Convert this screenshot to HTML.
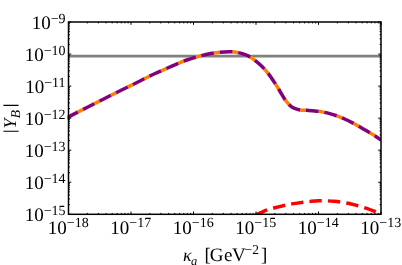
<!DOCTYPE html>
<html><head><meta charset="utf-8"><style>
html,body{margin:0;padding:0;background:#fff;}
svg{display:block;font-family:"Liberation Serif",serif;text-rendering:geometricPrecision;}
svg{will-change:transform}
</style></head><body>
<svg width="402" height="265" viewBox="0 0 402 265">
<rect width="402" height="265" fill="#fff"/>
<defs><clipPath id="c"><rect x="67.5" y="22.0" width="313.5" height="192.3"/></clipPath></defs>
<g clip-path="url(#c)">
<path d="M68.5 56.09H381.0" stroke="#808080" stroke-width="2.6" fill="none"/>
<path d="M66.00 118.20 C66.50 117.93 67.99 117.11 69.00 116.60 C72.57 114.78 81.27 110.41 87.40 107.30 C94.23 103.83 102.44 99.58 110.00 95.80 C118.77 91.42 133.33 84.32 140.00 81.00 C143.35 79.33 146.67 77.50 150.00 75.90 C153.30 74.32 156.66 72.89 160.00 71.40 C164.15 69.55 170.40 66.70 174.90 64.80 C178.90 63.11 182.90 61.43 187.00 60.00 C191.15 58.55 195.63 57.22 199.80 56.10 C203.83 55.02 207.89 54.00 212.00 53.30 C216.13 52.60 221.60 52.17 224.60 51.90 C226.39 51.74 228.20 51.65 230.00 51.70 C231.90 51.75 234.02 51.88 236.00 52.20 C238.07 52.53 240.32 53.02 242.40 53.70 C244.65 54.43 247.42 55.48 249.50 56.60 C251.44 57.64 253.17 59.04 254.90 60.40 C256.82 61.90 259.07 63.75 261.00 65.60 C263.07 67.58 265.37 69.92 267.30 72.30 C269.38 74.87 271.52 78.04 273.50 81.00 C275.58 84.12 277.90 87.92 279.80 91.00 C281.53 93.81 283.25 97.13 284.90 99.50 C286.32 101.54 288.18 103.75 289.70 105.20 C290.96 106.41 292.41 107.47 294.00 108.20 C295.70 108.98 297.88 109.57 299.90 109.90 C302.07 110.25 304.63 110.14 307.00 110.30 C309.48 110.47 312.30 110.63 314.80 110.90 C317.21 111.16 319.62 111.47 322.00 111.90 C324.48 112.35 327.20 112.93 329.70 113.60 C332.17 114.26 334.60 115.03 337.00 115.90 C339.48 116.80 342.10 117.88 344.60 119.00 C347.10 120.12 349.56 121.35 352.00 122.60 C354.50 123.88 357.10 125.30 359.60 126.70 C362.09 128.09 364.55 129.54 367.00 131.00 C369.48 132.48 372.17 134.12 374.50 135.60 C376.69 136.99 379.92 139.18 381.00 139.90" stroke="#ff8000" stroke-width="3.5" fill="none" stroke-dasharray="6.5 12.110000000000001" stroke-dashoffset="-12.94"/>
<path d="M66.00 118.20 C66.50 117.93 67.99 117.11 69.00 116.60 C72.57 114.78 81.27 110.41 87.40 107.30 C94.23 103.83 102.44 99.58 110.00 95.80 C118.77 91.42 133.33 84.32 140.00 81.00 C143.35 79.33 146.67 77.50 150.00 75.90 C153.30 74.32 156.66 72.89 160.00 71.40 C164.15 69.55 170.40 66.70 174.90 64.80 C178.90 63.11 182.90 61.43 187.00 60.00 C191.15 58.55 195.63 57.22 199.80 56.10 C203.83 55.02 207.89 54.00 212.00 53.30 C216.13 52.60 221.60 52.17 224.60 51.90 C226.39 51.74 228.20 51.65 230.00 51.70 C231.90 51.75 234.02 51.88 236.00 52.20 C238.07 52.53 240.32 53.02 242.40 53.70 C244.65 54.43 247.42 55.48 249.50 56.60 C251.44 57.64 253.17 59.04 254.90 60.40 C256.82 61.90 259.07 63.75 261.00 65.60 C263.07 67.58 265.37 69.92 267.30 72.30 C269.38 74.87 271.52 78.04 273.50 81.00 C275.58 84.12 277.90 87.92 279.80 91.00 C281.53 93.81 283.25 97.13 284.90 99.50 C286.32 101.54 288.18 103.75 289.70 105.20 C290.96 106.41 292.41 107.47 294.00 108.20 C295.70 108.98 297.88 109.57 299.90 109.90 C302.07 110.25 304.63 110.14 307.00 110.30 C309.48 110.47 312.30 110.63 314.80 110.90 C317.21 111.16 319.62 111.47 322.00 111.90 C324.48 112.35 327.20 112.93 329.70 113.60 C332.17 114.26 334.60 115.03 337.00 115.90 C339.48 116.80 342.10 117.88 344.60 119.00 C347.10 120.12 349.56 121.35 352.00 122.60 C354.50 123.88 357.10 125.30 359.60 126.70 C362.09 128.09 364.55 129.54 367.00 131.00 C369.48 132.48 372.17 134.12 374.50 135.60 C376.69 136.99 379.92 139.18 381.00 139.90" stroke="#800080" stroke-width="3.5" fill="none" stroke-dasharray="12.71 5.9" stroke-dashoffset="-0.53"/>
<path d="M252.00 217.70 C252.82 217.17 255.23 215.43 256.90 214.50 C258.54 213.58 260.28 212.85 262.00 212.10 C263.83 211.30 265.92 210.38 267.90 209.70 C269.87 209.02 271.89 208.52 273.90 208.00 C276.88 207.23 282.82 205.78 285.80 205.10 C287.79 204.64 289.79 204.24 291.80 203.90 C294.78 203.40 300.62 202.52 303.70 202.10 C305.89 201.80 308.10 201.60 310.30 201.40 C312.68 201.18 315.43 200.90 318.00 200.80 C320.62 200.70 323.33 200.72 326.00 200.80 C328.67 200.88 331.34 201.05 334.00 201.30 C336.67 201.55 339.34 201.90 342.00 202.30 C344.67 202.70 347.35 203.14 350.00 203.70 C352.67 204.27 355.35 204.96 358.00 205.70 C360.67 206.45 363.36 207.29 366.00 208.20 C368.67 209.12 371.50 210.20 374.00 211.20 C376.36 212.14 379.17 213.40 381.00 214.20 C382.34 214.78 384.33 215.70 385.00 216.00" stroke="#ff0000" stroke-width="3.5" fill="none" stroke-dasharray="12.3 6.2" stroke-dashoffset="-4.8"/>
</g>
<path d="M68.50 214.30v-2.80M68.50 22.00v2.80M87.31 214.30v-1.40M87.31 22.00v1.40M98.32 214.30v-1.40M98.32 22.00v1.40M106.13 214.30v-1.40M106.13 22.00v1.40M112.19 214.30v-1.40M112.19 22.00v1.40M117.13 214.30v-1.40M117.13 22.00v1.40M121.32 214.30v-1.40M121.32 22.00v1.40M124.94 214.30v-1.40M124.94 22.00v1.40M128.14 214.30v-1.40M128.14 22.00v1.40M131.00 214.30v-2.80M131.00 22.00v2.80M149.81 214.30v-1.40M149.81 22.00v1.40M160.82 214.30v-1.40M160.82 22.00v1.40M168.63 214.30v-1.40M168.63 22.00v1.40M174.69 214.30v-1.40M174.69 22.00v1.40M179.63 214.30v-1.40M179.63 22.00v1.40M183.82 214.30v-1.40M183.82 22.00v1.40M187.44 214.30v-1.40M187.44 22.00v1.40M190.64 214.30v-1.40M190.64 22.00v1.40M193.50 214.30v-2.80M193.50 22.00v2.80M212.31 214.30v-1.40M212.31 22.00v1.40M223.32 214.30v-1.40M223.32 22.00v1.40M231.13 214.30v-1.40M231.13 22.00v1.40M237.19 214.30v-1.40M237.19 22.00v1.40M242.13 214.30v-1.40M242.13 22.00v1.40M246.32 214.30v-1.40M246.32 22.00v1.40M249.94 214.30v-1.40M249.94 22.00v1.40M253.14 214.30v-1.40M253.14 22.00v1.40M256.00 214.30v-2.80M256.00 22.00v2.80M274.81 214.30v-1.40M274.81 22.00v1.40M285.82 214.30v-1.40M285.82 22.00v1.40M293.63 214.30v-1.40M293.63 22.00v1.40M299.69 214.30v-1.40M299.69 22.00v1.40M304.63 214.30v-1.40M304.63 22.00v1.40M308.82 214.30v-1.40M308.82 22.00v1.40M312.44 214.30v-1.40M312.44 22.00v1.40M315.64 214.30v-1.40M315.64 22.00v1.40M318.50 214.30v-2.80M318.50 22.00v2.80M337.31 214.30v-1.40M337.31 22.00v1.40M348.32 214.30v-1.40M348.32 22.00v1.40M356.13 214.30v-1.40M356.13 22.00v1.40M362.19 214.30v-1.40M362.19 22.00v1.40M367.13 214.30v-1.40M367.13 22.00v1.40M371.32 214.30v-1.40M371.32 22.00v1.40M374.94 214.30v-1.40M374.94 22.00v1.40M378.14 214.30v-1.40M378.14 22.00v1.40M381.00 214.30v-2.80M381.00 22.00v2.80M68.50 214.30h2.80M381.00 214.30h-2.80M68.50 204.65h1.40M381.00 204.65h-1.40M68.50 199.01h1.40M381.00 199.01h-1.40M68.50 195.00h1.40M381.00 195.00h-1.40M68.50 191.90h1.40M381.00 191.90h-1.40M68.50 189.36h1.40M381.00 189.36h-1.40M68.50 187.21h1.40M381.00 187.21h-1.40M68.50 185.36h1.40M381.00 185.36h-1.40M68.50 183.72h1.40M381.00 183.72h-1.40M68.50 182.25h2.80M381.00 182.25h-2.80M68.50 172.60h1.40M381.00 172.60h-1.40M68.50 166.96h1.40M381.00 166.96h-1.40M68.50 162.95h1.40M381.00 162.95h-1.40M68.50 159.85h1.40M381.00 159.85h-1.40M68.50 157.31h1.40M381.00 157.31h-1.40M68.50 155.16h1.40M381.00 155.16h-1.40M68.50 153.31h1.40M381.00 153.31h-1.40M68.50 151.67h1.40M381.00 151.67h-1.40M68.50 150.20h2.80M381.00 150.20h-2.80M68.50 140.55h1.40M381.00 140.55h-1.40M68.50 134.91h1.40M381.00 134.91h-1.40M68.50 130.90h1.40M381.00 130.90h-1.40M68.50 127.80h1.40M381.00 127.80h-1.40M68.50 125.26h1.40M381.00 125.26h-1.40M68.50 123.11h1.40M381.00 123.11h-1.40M68.50 121.26h1.40M381.00 121.26h-1.40M68.50 119.62h1.40M381.00 119.62h-1.40M68.50 118.15h2.80M381.00 118.15h-2.80M68.50 108.50h1.40M381.00 108.50h-1.40M68.50 102.86h1.40M381.00 102.86h-1.40M68.50 98.85h1.40M381.00 98.85h-1.40M68.50 95.75h1.40M381.00 95.75h-1.40M68.50 93.21h1.40M381.00 93.21h-1.40M68.50 91.06h1.40M381.00 91.06h-1.40M68.50 89.21h1.40M381.00 89.21h-1.40M68.50 87.57h1.40M381.00 87.57h-1.40M68.50 86.10h2.80M381.00 86.10h-2.80M68.50 76.45h1.40M381.00 76.45h-1.40M68.50 70.81h1.40M381.00 70.81h-1.40M68.50 66.80h1.40M381.00 66.80h-1.40M68.50 63.70h1.40M381.00 63.70h-1.40M68.50 61.16h1.40M381.00 61.16h-1.40M68.50 59.01h1.40M381.00 59.01h-1.40M68.50 57.16h1.40M381.00 57.16h-1.40M68.50 55.52h1.40M381.00 55.52h-1.40M68.50 54.05h2.80M381.00 54.05h-2.80M68.50 44.40h1.40M381.00 44.40h-1.40M68.50 38.76h1.40M381.00 38.76h-1.40M68.50 34.75h1.40M381.00 34.75h-1.40M68.50 31.65h1.40M381.00 31.65h-1.40M68.50 29.11h1.40M381.00 29.11h-1.40M68.50 26.96h1.40M381.00 26.96h-1.40M68.50 25.11h1.40M381.00 25.11h-1.40M68.50 23.47h1.40M381.00 23.47h-1.40M68.50 22.00h2.80M381.00 22.00h-2.80" stroke="#000" stroke-width="1" fill="none"/>
<rect x="68.5" y="22.0" width="312.5" height="192.3" fill="none" stroke="#000" stroke-width="1.5"/>
<g fill="#000">
<text x="68.20" y="234.3" text-anchor="middle" font-size="19">10<tspan font-size="14" dy="-7.3">−18</tspan></text>
<text x="130.70" y="234.3" text-anchor="middle" font-size="19">10<tspan font-size="14" dy="-7.3">−17</tspan></text>
<text x="193.20" y="234.3" text-anchor="middle" font-size="19">10<tspan font-size="14" dy="-7.3">−16</tspan></text>
<text x="255.70" y="234.3" text-anchor="middle" font-size="19">10<tspan font-size="14" dy="-7.3">−15</tspan></text>
<text x="318.20" y="234.3" text-anchor="middle" font-size="19">10<tspan font-size="14" dy="-7.3">−14</tspan></text>
<text x="380.70" y="234.3" text-anchor="middle" font-size="19">10<tspan font-size="14" dy="-7.3">−13</tspan></text>
<text x="65.6" y="221.30" text-anchor="end" font-size="19">10<tspan font-size="14" dy="-6.3">−15</tspan></text>
<text x="65.6" y="189.25" text-anchor="end" font-size="19">10<tspan font-size="14" dy="-6.3">−14</tspan></text>
<text x="65.6" y="157.20" text-anchor="end" font-size="19">10<tspan font-size="14" dy="-6.3">−13</tspan></text>
<text x="65.6" y="125.15" text-anchor="end" font-size="19">10<tspan font-size="14" dy="-6.3">−12</tspan></text>
<text x="65.6" y="93.10" text-anchor="end" font-size="19">10<tspan font-size="14" dy="-6.3">−11</tspan></text>
<text x="65.6" y="61.05" text-anchor="end" font-size="19">10<tspan font-size="14" dy="-6.3">−10</tspan></text>
<text x="65.6" y="29.00" text-anchor="end" font-size="19">10<tspan font-size="14" dy="-6.3">−9</tspan></text>

<text y="261" font-size="19"><tspan x="182.9" font-style="italic" font-size="18">κ</tspan><tspan x="191" font-style="italic" font-size="12.5" dy="3.5">a</tspan><tspan x="204.5" dy="-3.5">[</tspan><tspan x="209.8">G</tspan><tspan x="224.1">e</tspan><tspan x="232.1">V</tspan><tspan x="244.6" font-size="13.5" dy="-6.8">−2</tspan><tspan x="260.9" dy="6.8">]</tspan></text>
<path d="M3.4 131.2H18.6M3.4 105.4H18.6" stroke="#000" stroke-width="1.1" fill="none"/>
<text transform="translate(15.6,128.6) rotate(-90)" font-size="18" font-style="italic">Y<tspan font-size="13.5" dy="4.4" dx="0.3">B</tspan></text>
</g>
</svg>
</body></html>
